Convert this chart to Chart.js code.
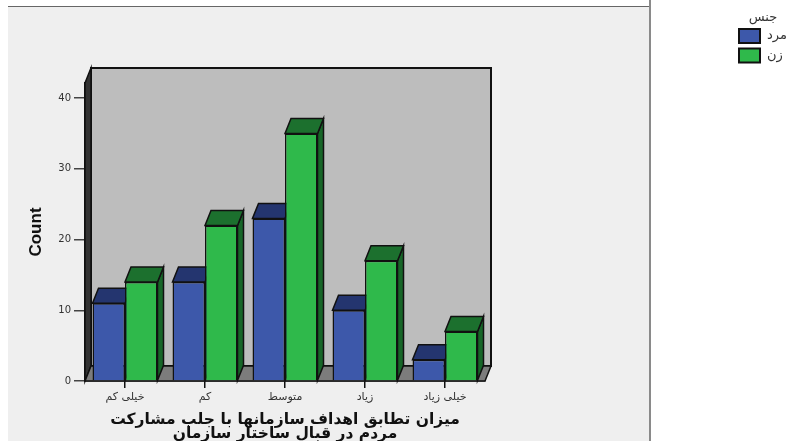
<!DOCTYPE html>
<html><head><meta charset="utf-8">
<style>html,body{margin:0;padding:0;background:#fff}canvas{display:block}</style>
<script src="https://cdn.jsdelivr.net/npm/chart.js@4"></script></head>
<body><canvas id="c" width="792" height="441"></canvas>
<script>
const categories = ["خیلی کم","کم","متوسط","زیاد","خیلی زیاد"];
const maleValues = [11,14,23,10,3];
const femaleValues = [14,22,35,17,7];
const seriesNames = ["مرد","زن"];
const legendTitle = "جنس";
const xTitle = ["میزان تطابق اهداف سازمانها با جلب مشارکت","مردم در قبال ساختار سازمان"];
const yTitle = "Count";
const yTicks = [0,10,20,30,40];

const depthX = 6, depthY = 15;
const colors = [
  {front:"#3d58aa", top:"#24356f", side:"#1f3068"},
  {front:"#2fb94b", top:"#1c702e", side:"#176628"}
];
function face(ctx, pts, fill, stroke, lw){
  ctx.beginPath();
  pts.forEach((p,i)=> i?ctx.lineTo(p[0],p[1]):ctx.moveTo(p[0],p[1]));
  ctx.closePath();
  ctx.fillStyle = fill; ctx.fill();
  if(stroke){ctx.strokeStyle = stroke; ctx.lineWidth = lw||1.5; ctx.stroke();}
}
const scene = {
  id:"scene",
  beforeDraw(chart){
    const c = chart.ctx;
    c.save();
    c.fillStyle="#efefef"; c.fillRect(8,6,642,435);
    c.fillStyle="#666"; c.fillRect(8,6,642,1);
    c.fillStyle="#8a8a8a"; c.fillRect(649,0,2,441);
    c.restore();
  },
  beforeDatasetsDraw(chart){
    const c = chart.ctx, a = chart.chartArea;
    c.save();
    const L=a.left, R=a.right, T=a.top, B=a.bottom;
    face(c,[[L+depthX,T-depthY],[R+depthX,T-depthY],[R+depthX,B-depthY],[L+depthX,B-depthY]],"#bdbdbd","#111",2);
    face(c,[[L,T],[L+depthX,T-depthY],[L+depthX,B-depthY],[L,B]],"#333333","#111",1.5);
    face(c,[[L,B],[L+depthX,B-depthY],[R+depthX,B-depthY],[R,B]],"#7c7c7c","#111",1.5);
    categories.forEach((_,i)=>{
      [0,1].forEach(d=>{
        const el = chart.getDatasetMeta(d).data[i];
        const l = el.x-el.width/2, r = el.x+el.width/2, t = el.y, b = el.base;
        face(c,[[r,t],[r+depthX,t-depthY],[r+depthX,b-depthY],[r,b]],colors[d].side,"#111",1.5);
        face(c,[[l,t],[l+depthX,t-depthY],[r+depthX,t-depthY],[r,t]],colors[d].top,"#111",1.5);
      });
    });
    c.restore();
  },
  afterDraw(chart){
    const c = chart.ctx;
    c.save();
    c.fillStyle="#333"; c.textBaseline="middle";
    c.font="13px 'DejaVu Sans'"; c.textAlign="center";
    c.fillText(legendTitle,763,18);
    chart.data.datasets.forEach((ds,i)=>{
      const y = 29+i*19.5;
      c.fillStyle=ds.backgroundColor; c.fillRect(739,y,21,14);
      c.strokeStyle="#111"; c.lineWidth=2; c.strokeRect(739,y,21,14);
      c.fillStyle="#333"; c.textAlign="left";
      c.fillText(ds.label,767,y+7);
    });
    c.restore();
  }
};
new Chart(document.getElementById("c"),{
  type:"bar",
  data:{labels:categories,datasets:[
    {label:seriesNames[0],data:maleValues,backgroundColor:colors[0].front,borderColor:"#111",borderWidth:1.5},
    {label:seriesNames[1],data:femaleValues,backgroundColor:colors[1].front,borderColor:"#111",borderWidth:1.5}
  ]},
  options:{
    responsive:false,animation:false,
    layout:{padding:{top:83,right:307,left:0,bottom:0}},
    plugins:{legend:{display:false},tooltip:{enabled:false},title:{display:false}},
    datasets:{bar:{categoryPercentage:0.8125,barPercentage:1}},
    scales:{
      x:{
        grid:{display:true,offset:false,drawOnChartArea:false,color:"#111",lineWidth:1.5,tickLength:7},
        border:{display:true,color:"#111",width:1.5},
        ticks:{color:"#333",font:{family:"DejaVu Sans",size:11},padding:3,maxRotation:0},
        title:{display:true,text:xTitle,color:"#111",font:{family:"DejaVu Sans",size:15.5,weight:"bold",lineHeight:0.9},padding:{top:0,bottom:0}},
        afterFit(s){s.height=60;}
      },
      y:{
        min:0,max:42.15,
        afterBuildTicks(s){s.ticks=yTicks.map(v=>({value:v}));},
        grid:{display:true,drawOnChartArea:false,color:"#444",lineWidth:1.5,tickLength:11},
        border:{display:true,color:"#111",width:1.5},
        ticks:{color:"#333",font:{family:"DejaVu Sans",size:10},padding:3},
        title:{display:true,text:yTitle,color:"#111",font:{family:"Liberation Sans",size:17,weight:"bold"},padding:{top:26,bottom:0}},
        afterFit(s){s.width=85;}
      }
    }
  },
  plugins:[scene]
});
</script></body></html>
